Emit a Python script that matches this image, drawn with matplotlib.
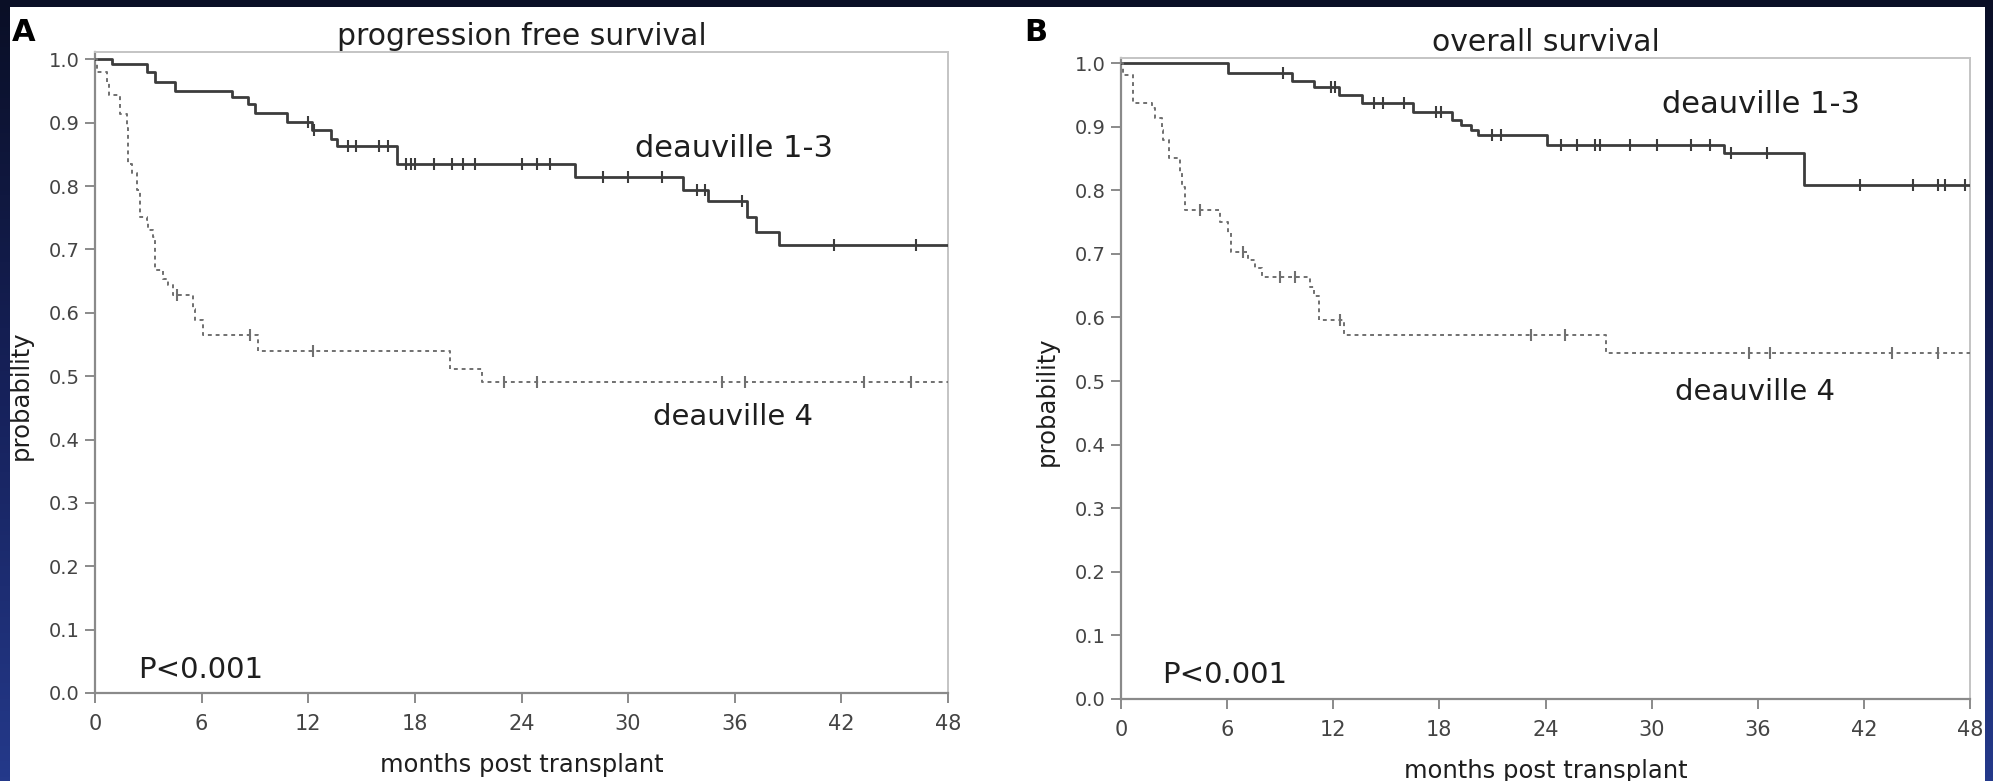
import numpy as np
import matplotlib
matplotlib.use("Agg")
import matplotlib.pyplot as plt
from matplotlib.colors import LinearSegmentedColormap
from matplotlib.patches import Rectangle

end_month = 48
month_ticks = [0, 6, 12, 18, 24, 30, 36, 42, 48]
prob_ticks = [0.0, 0.1, 0.2, 0.3, 0.4, 0.5, 0.6, 0.7, 0.8, 0.9, 1.0]

# progression free survival - deauville 1-3
pfs_d13_t = [0, 0.94, 2.9, 3.4, 4.5, 7.7, 8.6, 9.0, 10.8, 12.2, 13.3, 13.6, 17.0, 27.0, 33.1, 34.5, 36.7, 37.2, 38.5]
pfs_d13_s = [1.0, 0.993, 0.980, 0.964, 0.950, 0.940, 0.930, 0.915, 0.901, 0.888, 0.875, 0.863, 0.835, 0.814, 0.793, 0.777, 0.751, 0.728, 0.707]
pfs_d13_cens = [12.0, 12.3, 14.25, 14.7, 16.0, 16.5, 17.5, 17.8, 18.0, 19.1, 20.1, 20.7, 21.4, 24.0, 24.9, 25.6,
                28.6, 30.0, 31.9, 33.9, 34.3, 36.4, 41.6, 46.2]

# progression free survival - deauville 4
pfs_d4_t = [0, 0.1, 0.66, 0.8, 1.4, 1.8, 1.87, 2.06, 2.34, 2.53, 2.9, 3.0, 3.28, 3.37, 3.84, 4.12, 4.4, 5.53, 5.62, 6.05, 9.19, 20.0, 21.8]
pfs_d4_s = [1.0, 0.98, 0.962, 0.943, 0.914, 0.891, 0.835, 0.820, 0.793, 0.751, 0.746, 0.730, 0.720, 0.667, 0.654, 0.644, 0.628, 0.606, 0.588, 0.565, 0.540, 0.512, 0.491]
pfs_d4_cens = [4.6, 8.72, 12.28, 23.0, 24.9, 35.3, 36.6, 43.3, 45.9]

# overall survival - deauville 1-3
os_d13_t = [0, 6.07, 9.65, 10.9, 12.3, 13.6, 16.5, 18.7, 19.2, 19.8, 20.2, 24.1, 34.1, 38.6]
os_d13_s = [1.0, 0.985, 0.971, 0.963, 0.950, 0.937, 0.923, 0.910, 0.902, 0.895, 0.887, 0.871, 0.858, 0.808]
os_d13_cens = [9.18, 11.9, 12.1, 14.3, 14.8, 16.0, 17.8, 18.1, 21.0, 21.5, 24.9, 25.8, 26.8, 27.1, 28.8, 30.3,
               32.2, 33.3, 34.5, 36.5, 41.8, 44.8, 46.2, 46.6, 47.7]

# overall survival - deauville 4
os_d4_t = [0, 0.1, 0.7, 1.74, 1.93, 2.3, 2.4, 2.7, 3.34, 3.43, 3.6, 5.6, 6.07, 6.2, 7.2, 7.55, 7.96, 10.7, 10.9, 11.2, 12.6, 27.4]
os_d4_s = [1.0, 0.981, 0.937, 0.929, 0.913, 0.895, 0.879, 0.850, 0.829, 0.805, 0.769, 0.750, 0.732, 0.703, 0.690, 0.677, 0.663, 0.648, 0.633, 0.596, 0.572, 0.544]
os_d4_cens = [4.47, 6.9, 9.0, 9.84, 12.4, 23.2, 25.1, 35.5, 36.7, 43.6, 46.2]

TXT = '#1e1e1e'


def km(ax, t, s, cens, color, ls, lw):
    t = np.append(t, end_month)
    s = np.append(s, s[-1])
    ax.step(t, s, where='post', color=color, ls=ls, lw=lw, zorder=3)
    idx = np.searchsorted(t, cens, side='right') - 1
    ax.plot(cens, s[idx], ls='none', marker='|', ms=9, mew=1.5, color=color, zorder=4)


def panel(ax, ytop, title, title_y, lab13, lab4, pval):
    ax.set_xlim(0, end_month)
    ax.set_ylim(0, ytop)
    ax.set_xticks(month_ticks)
    ax.set_yticks(prob_ticks)
    ax.set_yticklabels(['%.1f' % v for v in prob_ticks])
    ax.tick_params(axis='both', direction='out', length=7, width=1.2, color='#777777',
                   labelcolor='#444444', labelsize=14)
    ax.tick_params(axis='x', pad=8, labelsize=15)
    ax.tick_params(axis='y', pad=4)
    for side in ['left', 'bottom']:
        ax.spines[side].set_color('#8a8a8a')
        ax.spines[side].set_linewidth(1.6)
    for side in ['top', 'right']:
        ax.spines[side].set_color('#c4c4c4')
        ax.spines[side].set_linewidth(1.4)
    ax.text(0.5, title_y, title, transform=ax.transAxes, ha='center', va='baseline',
            fontsize=21.5, color=TXT)
    ax.text(lab13[0], lab13[1], 'deauville 1-3', ha='left', va='baseline', fontsize=22, color=TXT)
    ax.text(lab4[0], lab4[1], 'deauville 4', ha='left', va='baseline', fontsize=21, color=TXT)
    ax.text(pval[0], pval[1], 'P<0.001', ha='left', va='baseline', fontsize=21, color=TXT)
    ax.set_xlabel('months post transplant', fontsize=17.5, color=TXT)
    ax.set_ylabel('probability', fontsize=17.5, color=TXT)
    ax.xaxis.set_label_coords(0.5, -0.093)
    ax.yaxis.set_label_coords(-0.073, 0.465)


fig = plt.figure(figsize=(19.93, 7.81), dpi=100)

bg = fig.add_axes([0, 0, 1, 1], zorder=-10)
cmap = LinearSegmentedColormap.from_list('navy', ['#0a0f26', '#16215a', '#24398a'])
bg.imshow(np.linspace(0, 1, 200).reshape(-1, 1), aspect='auto', cmap=cmap,
          extent=[0, 1, 0, 1], origin='upper')
bg.add_patch(Rectangle((10 / 1993, 0), 1975 / 1993, 774 / 781, transform=bg.transAxes,
                       facecolor='white', edgecolor='none'))
bg.set_xlim(0, 1)
bg.set_ylim(0, 1)
bg.axis('off')

axA = fig.add_axes([95 / 1993, 88 / 781, 853 / 1993, 641.3 / 781])
axB = fig.add_axes([1121 / 1993, 82 / 781, 849 / 1993, 641 / 781])

km(axA, pfs_d13_t, pfs_d13_s, pfs_d13_cens, '#3c3c3c', '-', 2.0)
km(axA, pfs_d4_t, pfs_d4_s, pfs_d4_cens, '#707070', (0, (2, 2)), 1.4)
km(axB, os_d13_t, os_d13_s, os_d13_cens, '#3c3c3c', '-', 2.0)
km(axB, os_d4_t, os_d4_s, os_d4_cens, '#707070', (0, (2, 2)), 1.4)

panel(axA, 1.012, 'progression free survival', 1.0104, (30.4, 0.846), (31.4, 0.423), (2.4, 0.024))
panel(axB, 1.0079, 'overall survival', 1.011, (30.6, 0.921), (31.3, 0.470), (2.3, 0.025))

fig.text(12 / 1993, (781 - 41) / 781, 'A', fontsize=22, fontweight='bold', color='black',
         ha='left', va='baseline')
fig.text(1024 / 1993, (781 - 41) / 781, 'B', fontsize=22, fontweight='bold', color='black',
         ha='left', va='baseline')

fig.savefig('out.png', dpi=100, facecolor=fig.get_facecolor())
